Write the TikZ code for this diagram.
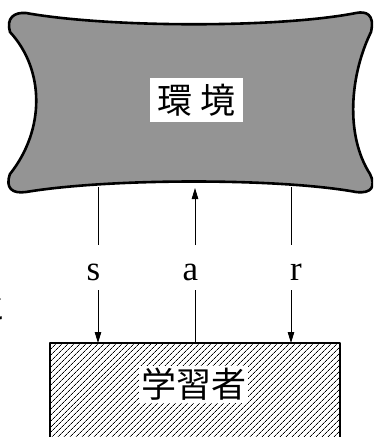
\documentclass[tikz,border=0pt]{standalone}
\usepackage{fontspec}
\setmainfont{Liberation Serif}
\newfontfamily\cjk{Noto Sans CJK JP}
\usetikzlibrary{arrows.meta,patterns.meta}
\tikzset{
  thickline/.style={line width=2.6pt, line join=round},
  conn/.style={line width=0.9pt},
  arr/.style={conn, -{Triangle[length=11pt,width=6.5pt]}},
  lbl/.style={font=\fontsize{35}{35}\selectfont, inner sep=0pt},
  jlbl/.style={font=\cjk\fontsize{35}{35}\selectfont, fill=white, inner sep=0pt},
}
\begin{document}
\begin{tikzpicture}[x=1pt,y=-1pt]
\useasboundingbox (0,0) rectangle (373,437);
\clip (0,0) rectangle (373,437);
% environment blob
\path[thickline, draw=black, fill=black!42]
  (26,13) .. controls (110,28) and (280,28) .. (356,13)
  .. controls (366,11) and (375,14) .. (371,32)
  .. controls (350,75) and (345,135) .. (370,174)
  .. controls (376,186) and (372,194) .. (356,192)
  .. controls (280,178) and (110,178) .. (26,192)
  .. controls (12,194) and (5,188) .. (10,174)
  .. controls (45,130) and (45,70) .. (10,32)
  .. controls (6,18) and (14,12) .. (26,13) -- cycle;
\node[jlbl, minimum width=93pt, minimum height=44pt] (env) at (196.5,100) {環\hspace{0.25em}境};
% learner box
\path[thickline, draw=black, pattern={Lines[angle=45,distance=4pt,line width=0.8pt]}]
  (50,343) rectangle (340,445);
\node[jlbl, minimum width=109pt, minimum height=37pt] (lrn) at (193.5,384.5) {学習者};
% connectors
\coordinate (sTop) at (98,187);
\coordinate (s1) at (98,245);
\coordinate (s2) at (98,290);
\coordinate (sBot) at (98,343);
\coordinate (aTop) at (195,188);
\coordinate (a1) at (195,245);
\coordinate (a2) at (195,290);
\coordinate (aBot) at (195,343);
\coordinate (rTop) at (291,187);
\coordinate (r1) at (291,245);
\coordinate (r2) at (291,290);
\coordinate (rBot) at (291,343);
\draw[conn] (sTop) -- (s1);
\draw[arr] (s2) -- (sBot);
\draw[conn] (aBot) -- (a2);
\draw[arr] (a1) -- (aTop);
\draw[conn] (rTop) -- (r1);
\draw[arr] (r2) -- (rBot);
\node[lbl, anchor=base] (sl) at (93.5,280) {s};
\node[lbl, anchor=base] (al) at (190.5,280) {a};
\node[lbl, anchor=base] (rl) at (296,280) {r};
% cut-off text at the left edge
\node[font=\cjk\fontsize{33}{33}\selectfont, inner sep=0pt] (frag) at (-9,307) {と};
\end{tikzpicture}
\end{document}
